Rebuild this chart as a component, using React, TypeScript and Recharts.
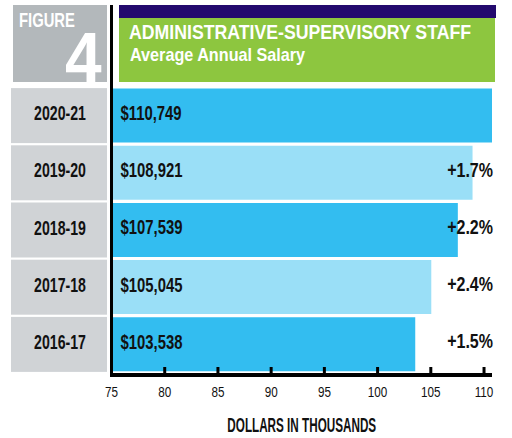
import React from "react";
import { BarChart, Bar, XAxis, YAxis, Cell, LabelList, Label } from "recharts";

const years = ["2020-21", "2019-20", "2018-19", "2017-18", "2016-17"];
const salaries = [110749, 108921, 107539, 105045, 103538];
const changes = ["", "+1.7%", "+2.2%", "+2.4%", "+1.5%"];
const xTicks = [75, 80, 85, 90, 95, 100, 105, 110];

const FONT = '"Liberation Sans", Arial, sans-serif';
const DARK = "#33bdf0";
const LIGHT = "#9adff7";
const INK = "#111";

const chartData = years.map((year, i) => ({
  year,
  value: salaries[i] / 1000,
  salary: salaries[i],
  change: changes[i],
}));

// condensed text: the original uses a narrow gothic face, so squeeze Liberation Sans
function CText({ x, y, sx, size, weight = "bold", anchor = "start", fill = INK, children }: any) {
  return (
    <text
      transform={`translate(${x} ${y}) scale(${sx} 1)`}
      fontFamily={FONT}
      fontSize={size}
      fontWeight={weight}
      textAnchor={anchor}
      fill={fill}
    >
      {children}
    </text>
  );
}

function YearTick(props: any) {
  const { y, payload } = props;
  return (
    <g>
      <rect x={11} y={y - 27.5} width={96} height={55} fill="#d0d3d6" />
      <CText x={60} y={y + 4.5} sx={0.69} size={20.5} anchor="middle">
        {payload.value}
      </CText>
    </g>
  );
}

function ValueTick(props: any) {
  const { x, y, payload } = props;
  return (
    <CText x={x} y={y} sx={0.78} size={15} weight="normal" anchor="middle">
      {payload.value}
    </CText>
  );
}

function SalaryLabel(props: any) {
  const { x, y, height, index } = props;
  return (
    <CText x={x + 9} y={y + height / 2 + 4.5} sx={0.725} size={20.5}>
      {"$" + salaries[index].toLocaleString("en-US")}
    </CText>
  );
}

function ChangeLabel(props: any) {
  const { y, height, index } = props;
  if (!changes[index]) return null;
  return (
    <CText x={493} y={y + height / 2 + 4} sx={0.8} size={20} anchor="end">
      {changes[index]}
    </CText>
  );
}

function AxisTitle(props: any) {
  const { viewBox } = props;
  return (
    <CText x={viewBox.x + viewBox.width / 2} y={viewBox.y + viewBox.height - 1} sx={0.6} size={19.5} anchor="middle">
      DOLLARS IN THOUSANDS
    </CText>
  );
}

export default function App() {
  return (
    <div style={{ position: "absolute", left: 0, top: 0, width: 512, height: 438, background: "#fff" }}>
      <BarChart
        width={512}
        height={438}
        data={chartData}
        layout="vertical"
        margin={{ top: 87, right: 20, bottom: 5, left: 0 }}
        barCategoryGap={1.5}
      >
        <XAxis
          type="number"
          domain={[75, "dataMax"]}
          ticks={xTicks}
          allowDataOverflow
          height={60}
          axisLine={{ stroke: "#000", strokeWidth: 4, transform: "translate(0 2)" }}
          tickLine={{ stroke: "#000", strokeWidth: 3 }}
          tickSize={-6}
          tickMargin={30}
          tick={<ValueTick />}
        >
          <Label content={<AxisTitle />} />
        </XAxis>
        <YAxis
          type="category"
          dataKey="year"
          width={111.5}
          axisLine={{ stroke: "#000", strokeWidth: 3 }}
          tickLine={false}
          tick={<YearTick />}
        />
        <Bar dataKey="value" isAnimationActive={false}>
          {chartData.map((d, i) => (
            <Cell key={d.year} fill={i % 2 === 0 ? DARK : LIGHT} />
          ))}
          <LabelList dataKey="salary" content={<SalaryLabel />} />
          <LabelList dataKey="change" content={<ChangeLabel />} />
        </Bar>
      </BarChart>

      {/* figure header */}
      <svg
        width={512}
        height={438}
        style={{ position: "absolute", left: 0, top: 0, pointerEvents: "none" }}
      >
        <rect x={13} y={5} width={94} height={77} fill="#b3b8bb" />
        <CText x={19} y={26.7} sx={0.76} size={19.5} fill="#fff">
          FIGURE
        </CText>
        <CText x={101.7} y={81.7} sx={0.94} size={70} anchor="end" fill="#fff">
          4
        </CText>
        <rect x={110} y={5} width={3} height={372} fill="#000" />
        <rect x={119} y={5} width={377} height={13} fill="#230a6e" />
        <rect x={119} y={18} width={376} height={64} fill="#8dc63f" />
        <CText x={129} y={38.5} sx={0.885} size={20} fill="#fff">
          ADMINISTRATIVE-SUPERVISORY STAFF
        </CText>
        <CText x={130} y={60.7} sx={0.9} size={18} fill="#fff">
          Average Annual Salary
        </CText>
      </svg>
    </div>
  );
}
